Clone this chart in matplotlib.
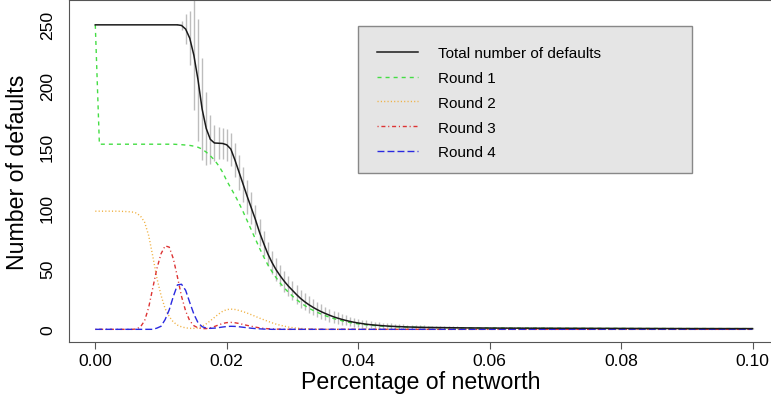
import numpy as np
import matplotlib
matplotlib.use('Agg')
import matplotlib.pyplot as plt
from matplotlib.patches import Rectangle

plt.rcParams['font.family'] = ['Liberation Sans', 'DejaVu Sans']
plt.rcParams['lines.scale_dashes'] = False

# x grid: percentage of networth, 161 points from 0 to 0.1
pct = np.linspace(0, 0.1, 161)

total = [
    250, 250, 250, 250, 250, 250, 250, 250, 250, 250,
    250, 250, 250, 250, 250, 250, 250, 250, 250, 250,
    250, 249.5, 246.5, 239, 225, 205, 181, 165, 156, 153,
    152.8, 152.6, 151.5, 148, 139, 129, 119, 109, 99.5, 90,
    79.5, 70.5, 62, 55, 49, 44, 39.5, 35.5, 32, 28.5,
    25.3, 22.6, 20.2, 18.1, 16.2, 14.5, 13, 11.6, 10.3, 9.2,
    8.2, 7.3, 6.5, 5.8, 5.2, 4.7, 4.2, 3.8, 3.5, 3.2,
    2.95, 2.7, 2.5, 2.35, 2.2, 2.05, 1.95, 1.85, 1.75, 1.65,
    1.6, 1.55, 1.5, 1.45, 1.4, 1.35, 1.3, 1.27, 1.24, 1.21,
    1.18, 1.15, 1.12, 1.1, 1.08, 1.06, 1.04, 1.02, 1.0, 0.99,
    0.98, 0.97, 0.96, 0.95, 0.94, 0.93, 0.92, 0.91, 0.9, 0.89,
    0.88, 0.87, 0.86, 0.85, 0.84, 0.83, 0.82, 0.81, 0.8, 0.79,
    0.78, 0.77, 0.77, 0.76, 0.75, 0.75, 0.74, 0.73, 0.73, 0.72,
    0.71, 0.71, 0.7, 0.7, 0.69, 0.69, 0.68, 0.68, 0.67, 0.67,
    0.66, 0.66, 0.65, 0.65, 0.65, 0.64, 0.64, 0.63, 0.63, 0.63,
    0.62, 0.62, 0.62, 0.61, 0.61, 0.61, 0.61, 0.6, 0.6, 0.6,
    0.6,
]

total_sd = [
    0, 0, 0, 0, 0, 0, 0, 0, 0, 0,
    0, 0, 0, 0, 0, 0, 0, 0, 0, 0,
    0.5, 4, 12, 22, 45, 50, 42, 30, 20, 15,
    13, 13, 13, 13.5, 14, 14.5, 14.5, 14, 13, 12,
    11, 10.5, 10, 9.6, 9.2, 8.8, 8.5, 8.2, 8, 7.7,
    7.4, 7.1, 6.8, 6.5, 6.2, 5.9, 5.6, 5.3, 5.0, 4.7,
    4.4, 4.1, 3.9, 3.7, 3.5, 3.3, 3.1, 2.9, 2.8, 2.6,
    2.5, 2.4, 2.3, 2.2, 2.1, 2.0, 1.9, 1.8, 1.7, 1.6,
    1.55, 1.5, 1.45, 1.4, 1.35, 1.3, 1.25, 1.2, 1.15, 1.1,
    1.05, 1.0, 0.97, 0.94, 0.91, 0.88, 0.85, 0.82, 0.8, 0.78,
    0.76, 0.74, 0.72, 0.7, 0.69, 0.68, 0.67, 0.66, 0.65, 0.64,
    0.63, 0.62, 0.61, 0.6, 0.59, 0.58, 0.57, 0.56, 0.55, 0.54,
    0.53, 0.52, 0.51, 0.5, 0.5, 0.49, 0.49, 0.48, 0.48, 0.47,
    0.47, 0.46, 0.46, 0.45, 0.45, 0.44, 0.44, 0.43, 0.43, 0.42,
    0.42, 0.42, 0.41, 0.41, 0.41, 0.4, 0.4, 0.4, 0.4, 0.4,
    0.4, 0.4, 0.4, 0.4, 0.4, 0.4, 0.4, 0.4, 0.4, 0.4,
    0.4,
]

round1 = [
    250, 152, 152, 152, 152, 152, 152, 152, 152, 152,
    152, 152, 152, 152, 152, 152, 152, 152, 152, 152,
    151.8, 151.6, 151.3, 151, 150.4, 149.5, 148, 145.5, 142.5, 139,
    134.5, 129, 122, 116, 110, 103.5, 96.5, 89, 81.5, 74,
    66.5, 59.5, 53, 47.5, 42.5, 38, 34, 30.5, 27.3, 24.4,
    21.8, 19.5, 17.4, 15.6, 14, 12.5, 11.2, 10, 8.9, 7.9,
    7.1, 6.3, 5.6, 5.0, 4.5, 4.1, 3.7, 3.35, 3.05, 2.8,
    2.6, 2.4, 2.25, 2.1, 2.0, 1.9, 1.8, 1.72, 1.65, 1.58,
    1.52, 1.48, 1.44, 1.4, 1.36, 1.32, 1.28, 1.25, 1.22, 1.19,
    1.16, 1.13, 1.1, 1.08, 1.06, 1.04, 1.02, 1.0, 0.98, 0.97,
    0.96, 0.95, 0.94, 0.93, 0.92, 0.91, 0.9, 0.89, 0.88, 0.87,
    0.86, 0.85, 0.84, 0.83, 0.82, 0.81, 0.8, 0.79, 0.78, 0.77,
    0.76, 0.76, 0.75, 0.74, 0.74, 0.73, 0.72, 0.72, 0.71, 0.71,
    0.7, 0.7, 0.69, 0.69, 0.68, 0.68, 0.67, 0.67, 0.66, 0.66,
    0.65, 0.65, 0.64, 0.64, 0.64, 0.63, 0.63, 0.62, 0.62, 0.62,
    0.61, 0.61, 0.61, 0.6, 0.6, 0.6, 0.6, 0.59, 0.59, 0.59,
    0.59,
]

round2 = [
    97, 97, 97, 97, 97, 97, 96.9, 96.8, 96.6, 96.3,
    95.5, 93, 88, 77, 60, 42, 28, 17, 10.5, 6,
    3.5, 2, 1.2, 0.8, 0.8, 1.2, 2.5, 4.5, 7, 9.8,
    12.5, 14.8, 16.2, 16.6, 16.3, 15.5, 14.5, 13.3, 12, 10.6,
    9.2, 7.9, 6.6, 5.4, 4.3, 3.4, 2.6, 1.9, 1.4, 1.0,
    0.7, 0.5, 0.3, 0.2, 0.1, 0.1, 0, 0, 0, 0,
    0, 0, 0, 0, 0, 0, 0, 0, 0, 0,
    0, 0, 0, 0, 0, 0, 0, 0, 0, 0,
    0, 0, 0, 0, 0, 0, 0, 0, 0, 0,
    0, 0, 0, 0, 0, 0, 0, 0, 0, 0,
    0, 0, 0, 0, 0, 0, 0, 0, 0, 0,
    0, 0, 0, 0, 0, 0, 0, 0, 0, 0,
    0, 0, 0, 0, 0, 0, 0, 0, 0, 0,
    0, 0, 0, 0, 0, 0, 0, 0, 0, 0,
    0, 0, 0, 0, 0, 0, 0, 0, 0, 0,
    0, 0, 0, 0, 0, 0, 0, 0, 0, 0,
    0,
]

round3 = [
    0, 0, 0, 0, 0, 0, 0, 0, 0, 0,
    0.3, 2, 7, 18, 34, 50, 62, 68.5, 67.5, 58,
    43, 27, 15, 7, 3, 1.2, 0.6, 0.6, 1.2, 2.3,
    3.6, 4.8, 5.5, 5.7, 5.4, 4.8, 4.0, 3.2, 2.5, 1.8,
    1.2, 0.8, 0.5, 0.3, 0.2, 0.1, 0, 0, 0, 0,
    0, 0, 0, 0, 0, 0, 0, 0, 0, 0,
    0, 0, 0, 0, 0, 0, 0, 0, 0, 0,
    0, 0, 0, 0, 0, 0, 0, 0, 0, 0,
    0, 0, 0, 0, 0, 0, 0, 0, 0, 0,
    0, 0, 0, 0, 0, 0, 0, 0, 0, 0,
    0, 0, 0, 0, 0, 0, 0, 0, 0, 0,
    0, 0, 0, 0, 0, 0, 0, 0, 0, 0,
    0, 0, 0, 0, 0, 0, 0, 0, 0, 0,
    0, 0, 0, 0, 0, 0, 0, 0, 0, 0,
    0, 0, 0, 0, 0, 0, 0, 0, 0, 0,
    0, 0, 0, 0, 0, 0, 0, 0, 0, 0,
    0,
]

round4 = [
    0, 0, 0, 0, 0, 0, 0, 0, 0, 0,
    0, 0, 0, 0, 0, 1, 2.5, 8, 16, 27,
    36.5, 37, 32, 22, 12.5, 5.5, 2.2, 1.0, 0.8, 1.0,
    1.4, 1.9, 2.3, 2.5, 2.4, 2.1, 1.7, 1.3, 0.9, 0.6,
    0.4, 0.2, 0.1, 0, 0, 0, 0, 0, 0, 0,
    0, 0, 0, 0, 0, 0, 0, 0, 0, 0,
    0, 0, 0, 0, 0, 0, 0, 0, 0, 0,
    0, 0, 0, 0, 0, 0, 0, 0, 0, 0,
    0, 0, 0, 0, 0, 0, 0, 0, 0, 0,
    0, 0, 0, 0, 0, 0, 0, 0, 0, 0,
    0, 0, 0, 0, 0, 0, 0, 0, 0, 0,
    0, 0, 0, 0, 0, 0, 0, 0, 0, 0,
    0, 0, 0, 0, 0, 0, 0, 0, 0, 0,
    0, 0, 0, 0, 0, 0, 0, 0, 0, 0,
    0, 0, 0, 0, 0, 0, 0, 0, 0, 0,
    0, 0, 0, 0, 0, 0, 0, 0, 0, 0,
    0,
]

labels = ['Total number of defaults', 'Round 1', 'Round 2', 'Round 3', 'Round 4']
xtick_vals = [0.0, 0.02, 0.04, 0.06, 0.08, 0.10]
xtick_labels = ['0.00', '0.02', '0.04', '0.06', '0.08', '0.10']
ytick_vals = [0, 50, 100, 150, 200, 250]

total = np.array(total)
total_sd = np.array(total_sd)

fig = plt.figure(figsize=(7.71, 4.02), dpi=100)
# the plot box runs a bit past the right edge of the picture
ax = fig.add_axes([69 / 771, 1 - 343 / 402, 709.8 / 771, 342 / 402])

# error bars
m = total_sd > 0
ax.vlines(pct[m], total[m] - total_sd[m], total[m] + total_sd[m],
          color='#bdbdbd', lw=1.0, zorder=1)

h0, = ax.plot(pct, total, color='#1a1a1a', lw=1.1, zorder=3)
h1, = ax.plot(pct, round1, color='#44dd44', lw=1.0, ls=(0, (2.9, 2.9)), zorder=2)
h2, = ax.plot(pct, round2, color='#f0b040', lw=1.0, ls=(0, (0.8, 1.6)), zorder=2)
h3, = ax.plot(pct, round3, color='#dd3333', lw=1.0, ls=(0, (0.8, 2.0, 2.9, 2.0)), zorder=2)
h4, = ax.plot(pct, round4, color='#2a2ae0', lw=1.0, ls=(0, (5.0, 2.2)), zorder=2)

ax.set_xlim(-0.004, 0.104)
ax.set_ylim(-10.4, 270.4)
ax.set_xticks(xtick_vals)
ax.set_xticklabels(xtick_labels)
ax.set_yticks(ytick_vals)
ax.tick_params(axis='x', length=5, width=0.8, color='#555555', labelsize=12.6, pad=3)
ax.tick_params(axis='y', length=0, labelsize=12.6, labelrotation=90, pad=10)
for t in ax.get_yticklabels():
    t.set_va('center')
for s in ax.spines.values():
    s.set_color('#555555')
    s.set_linewidth(0.8)

fig.text(421 / 771, 1 - 389.5 / 402, 'Percentage of networth', ha='center',
         va='baseline', fontsize=16.7)
fig.text(29 / 771, 1 - 172 / 402, 'Number of defaults', rotation=90,
         ha='right', va='center', fontsize=16.7)

# legend box
fig.add_artist(Rectangle((358 / 771, 1 - 174 / 402), 334 / 771, 147 / 402,
                         transform=fig.transFigure, facecolor='#e5e5e5',
                         edgecolor='#888888', lw=1.0, zorder=4))
fig.legend([h0, h1, h2, h3, h4], labels, loc='upper left',
           bbox_to_anchor=(377 / 771, 1 - 47 / 402), frameon=False,
           fontsize=11, borderpad=0, borderaxespad=0, handlelength=2.68,
           handletextpad=1.3, labelspacing=0.71)

fig.savefig('out.png', dpi=100)
